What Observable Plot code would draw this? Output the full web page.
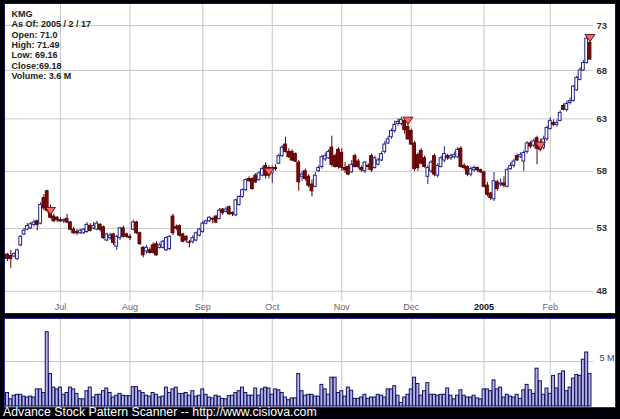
<!DOCTYPE html>
<html>
<head>
<meta charset="utf-8">
<script src="https://cdn.jsdelivr.net/npm/d3@7"></script>
<script src="https://cdn.jsdelivr.net/npm/@observablehq/plot@0.6"></script>
<style>
  html, body { margin: 0; padding: 0; background: #000008; }
  #wrap { position: relative; width: 620px; height: 419px; background: #000008; overflow: hidden; font-family: "Liberation Sans", Arial, sans-serif; }
  #price { position: absolute; left: 5px; top: 4px; outline: 1px solid #14145e; }
  #vol { position: absolute; left: 5px; top: 319px; outline: 1px solid #2a2a90; }
  #footer { position: absolute; left: 3px; top: 405px; color: #fff; font-size: 12.3px; white-space: nowrap; }
  svg { display: block; }
</style>
</head>
<body>
<div id="wrap">
  <div id="price"></div>
  <div id="vol"></div>
  <div id="footer"></div>
</div>
<script>
// ---- Data (trading days from 2004-06-08 to 2005-02-17, index 0..176) ----
const open = [
 50.85,50.75,50.7,50.5,51.6,52.5,52.9,53.0,53.3,53.6,53.4,55.6,56.2,54.6,54.0,53.9,
 53.7,53.6,53.8,53.5,52.9,52.7,52.6,52.6,52.7,53.2,53.0,52.9,53.3,53.1,52.0,52.2,52.5,51.5,52.2,53.0,52.5,52.3,52.9,53.5,52.6,51.4,51.1,
 51.2,51.6,51.7,51.4,51.4,51.2,51.3,54.0,53.1,53.2,52.5,52.3,51.85,51.9,52.0,52.4,
 52.7,53.4,53.6,53.8,54.0,53.8,54.6,54.4,54.8,54.3,54.1,55.0,55.7,56.3,57.3,57.3,57.6,57.2,57.6,58.5,58.3,
 57.8,58.3,58.7,59.4,60.5,59.8,59.8,59.6,58.8,57.5,58.0,57.5,56.8,56.6,58.0,58.4,59.1,59.2,60.2,59.4,60.0,
 59.7,58.3,58.4,57.9,59.4,58.9,58.3,58.0,58.5,59.4,58.3,58.6,59.0,59.8,60.6,61.2,61.8,62.5,62.5,62.8,62.2,
 61.8,60.6,59.5,59.9,59.2,57.5,58.0,59.4,57.6,58.4,59.0,59.4,59.2,59.3,59.3,60.1,58.5,58.4,57.7,58.1,58.3,58.1,
 57.9,56.7,56.0,55.5,57.0,56.8,56.9,56.6,58.2,58.5,59.4,59.3,58.9,59.8,60.6,60.4,61.1,60.6,60.2,61.0,
 62.0,62.6,62.4,62.8,64.3,63.9,64.6,64.8,65.9,67.0,68.0,68.8,71.0
];
const high = [
 50.95,51.2,51.0,51.3,52.4,53.0,53.4,53.5,53.7,53.7,55.2,55.9,56.3,55.0,54.2,54.0,
 53.9,53.8,54.2,53.6,53.1,52.9,52.9,53.0,53.5,53.4,53.5,53.6,53.4,53.2,52.6,52.6,52.6,52.4,53.1,53.2,52.6,52.5,53.7,53.6,52.7,51.5,51.6,
 51.4,51.8,51.9,51.8,52.0,52.3,52.4,54.2,53.3,53.3,52.6,52.4,52.0,52.4,52.7,53.0,
 53.6,53.7,54.0,53.9,54.1,54.7,54.7,54.8,54.9,54.4,55.5,55.8,56.4,57.3,57.5,57.4,57.8,58.0,58.4,58.8,58.5,
 58.5,58.6,59.6,60.4,61.2,60.1,60.0,59.7,59.0,58.0,58.2,57.7,57.2,57.9,58.5,59.5,59.7,60.0,61.3,59.6,60.2,
 60.1,58.8,58.6,59.0,59.6,59.1,58.5,58.9,58.7,59.6,59.4,59.2,59.8,60.8,61.3,62.0,62.8,63.0,63.2,63.0,62.9,
 62.0,60.8,59.7,60.1,59.4,58.5,59.0,59.6,58.7,59.4,60.3,59.6,59.6,59.8,60.2,60.3,58.7,58.5,58.4,58.5,58.4,58.2,
 58.0,57.0,56.1,57.9,57.2,57.3,57.5,58.3,58.8,59.1,59.6,59.7,59.9,60.8,60.8,61.0,61.3,61.0,61.3,62.3,
 63.1,62.9,62.9,63.8,64.5,64.8,65.1,66.4,67.4,68.3,69.1,71.9,71.49
];
const low = [
 50.3,49.75,50.6,50.4,51.5,52.4,52.8,52.9,53.1,52.8,53.3,54.5,54.3,53.8,53.5,53.5,
 53.5,53.4,53.4,52.8,52.5,52.4,52.5,52.5,52.6,52.7,52.9,52.8,52.7,52.1,51.9,52.0,51.6,51.2,52.0,52.2,52.2,52.0,52.8,52.5,51.6,50.6,50.9,
 50.9,50.9,50.7,51.3,51.3,51.1,51.2,52.4,52.8,52.3,51.8,51.8,51.4,51.7,51.9,52.3,
 52.6,53.3,53.5,53.4,53.4,53.7,54.1,54.3,54.1,54.0,54.0,54.9,55.6,56.2,57.0,56.3,56.9,57.1,57.5,57.3,57.3,
 56.9,58.0,58.6,59.3,59.7,59.2,58.9,58.8,56.2,57.1,57.1,56.5,55.7,56.5,57.9,58.2,58.9,59.1,58.4,58.3,58.2,
 58.0,57.8,57.6,57.8,58.3,58.2,57.9,57.8,58.1,57.9,58.2,58.5,58.9,59.6,60.5,61.0,61.6,62.3,62.3,61.5,60.9,
 60.4,58.0,58.0,58.6,58.3,56.8,57.8,57.5,57.4,58.3,58.8,59.0,59.0,59.1,59.2,58.3,58.1,57.5,57.5,57.9,57.9,57.8,
 56.5,55.7,55.4,55.3,56.2,56.6,56.5,56.5,58.1,58.3,58.9,59.2,58.0,59.6,60.1,60.2,58.6,59.8,60.0,60.8,
 61.9,62.2,62.2,62.7,63.8,63.7,64.4,64.7,65.8,66.9,67.9,68.7,69.16
];
const close = [
 50.5,50.5,50.9,51.2,52.3,52.8,53.2,53.35,53.5,53.3,55.0,54.7,54.5,53.9,53.6,53.7,
 53.6,53.7,53.5,52.9,52.6,52.6,52.8,52.9,53.3,52.8,53.2,53.4,52.9,52.2,52.5,52.4,51.8,52.3,53.0,52.3,52.3,52.2,53.5,52.6,51.7,50.8,51.4,
 51.0,51.0,50.8,51.6,51.9,52.2,52.3,52.6,53.0,52.4,51.9,52.0,51.8,52.2,52.6,52.9,
 53.4,53.6,53.9,53.75,53.5,54.5,54.3,54.6,54.2,54.2,55.4,55.7,56.3,57.2,57.1,56.4,57.0,57.8,58.2,57.6,57.6,
 58.3,58.2,59.4,60.2,59.8,59.3,59.0,58.9,57.0,57.7,57.3,56.7,56.2,57.6,58.3,59.3,59.4,59.8,58.6,58.4,58.4,
 58.3,58.1,57.7,58.6,58.4,58.4,58.1,58.8,58.4,58.1,59.2,59.0,59.6,60.5,61.0,61.8,62.4,62.7,62.9,61.9,61.0,
 60.5,58.2,58.3,58.7,58.4,58.3,58.8,57.7,58.5,59.2,59.6,59.2,59.4,59.5,60.0,58.4,58.3,57.7,58.2,58.3,58.1,57.9,
 56.6,55.9,55.6,57.1,56.4,56.9,56.7,58.1,58.5,58.9,59.0,59.5,59.7,60.6,60.3,60.8,60.1,60.0,61.0,62.1,
 62.8,62.4,62.6,63.6,63.9,64.5,64.8,66.3,67.2,68.0,68.8,71.5,69.18
];
const volume = [
 1.5,0.8,1.2,1.3,1.3,1.1,1.0,1.1,1.0,1.9,1.9,1.5,8.25,3.6,2.1,1.9,
 2.1,1.3,1.5,2.1,1.9,1.4,0.8,0.8,1.7,2.1,
 1.0,1.3,1.3,1.7,2.0,1.5,1.0,1.2,1.4,1.2,
 1.15,1.15,2.15,2.15,1.7,1.5,1.2,1.1,1.5,1.3,
 1.0,1.1,2.1,1.5,1.9,2.1,1.4,1.4,1.5,1.2,
 1.7,1.1,1.2,1.9,1.3,1.0,0.9,1.2,1.1,0.85,
 0.8,1.15,1.2,1.5,1.7,2.1,1.5,1.2,1.2,2.0,
 1.2,1.9,2.1,2.0,1.3,1.9,1.8,1.5,1.0,0.7,
 0.9,0.9,3.6,1.7,1.2,1.3,1.3,1.1,1.1,2.4,
 1.9,1.3,3.2,3.2,1.5,1.7,1.1,2.1,1.75,0.85,
 0.85,1.0,1.3,0.85,1.0,1.0,1.3,1.2,1.0,1.9,
 1.9,2.25,1.2,0.4,1.0,1.3,1.9,3.2,2.5,1.2,
 1.7,2.6,1.3,1.3,1.2,1.3,1.3,2.0,1.2,0.8,
 1.2,1.8,1.2,1.0,1.0,1.2,0.9,0.8,1.9,1.9,
 1.7,2.9,1.9,2.1,1.0,1.3,1.1,1.0,1.3,0.85,
 1.8,2.4,1.8,1.4,4.2,2.8,1.3,2.0,1.4,3.4,
 2.0,3.6,3.9,1.7,2.1,3.1,3.5,3.4,5.2,6.0,3.6
];
const monthLabels = ["Jul", "Aug", "Sep", "Oct", "Nov", "Dec", "2005", "Feb"];
const monthIndex  = [16, 37, 59, 80, 101, 122, 144, 164];
const priceTicks = [48, 53, 58, 63, 68, 73];
const volumeTicks = [5];
const markerIndex = [13, 79, 121, 161, 176];
const markerPrice = [54.57, 58.06, 62.92, 60.49, 71.69];
const infoLines = ["KMG", "As Of: 2005 / 2 / 17", "Open: 71.0", "High: 71.49", "Low: 69.16", "Close:69.18", "Volume: 3.6 M"];
const footerText = "Advance Stock Pattern Scanner -- http://www.cisiova.com";

// ---- Build tables ----
const candles = open.map((o, i) => ({i, open: o, high: high[i], low: low[i], close: close[i], up: close[i] >= o}));
const vols = volume.map((v, i) => ({i, v}));
const months = monthLabels.map((label, k) => ({i: monthIndex[k], label}));
const markers = markerIndex.map((i, k) => ({i, p: markerPrice[k]}));

const UP = "#23238a", DOWN_FILL = "#7d0a0a", DOWN_LINE = "#5a0000";
const GRID = "#c8c8c8";
const FONT = "'Liberation Sans', Arial, Helvetica, sans-serif";
const xDomain = [-0.604, 177.06];
const downTri = {draw(ctx) { ctx.moveTo(-5, -2.5); ctx.lineTo(5, -2.5); ctx.lineTo(0, 4.5); ctx.closePath(); }};

const price = Plot.plot({
  width: 610, height: 309,
  marginLeft: 0, marginRight: 22, marginTop: 0, marginBottom: 12,
  style: {background: "#fff", fontFamily: FONT, fontSize: "9px", overflow: "visible"},
  x: {domain: xDomain, axis: null},
  y: {type: "log", domain: [47.23, 75.46], axis: null},
  color: {type: "identity"},
  marks: [
    Plot.ruleY(priceTicks, {stroke: GRID}),
    Plot.ruleX(monthIndex, {stroke: GRID}),
    // right-hand price labels, positioned by the y scale
    Plot.text(priceTicks, {y: d => d, text: d => String(d), frameAnchor: "right", textAnchor: "start", dx: 3,
      fontWeight: "bold", fill: "#333", fontSize: 9.5}),
    Plot.text(months.filter(d => d.label !== "2005"), {x: "i", text: "label", frameAnchor: "bottom", dy: 8, fill: "#666"}),
    Plot.text(months.filter(d => d.label === "2005"), {x: "i", text: "label", frameAnchor: "bottom", dy: 8, fill: "#111", fontWeight: "bold"}),
    Plot.ruleX(candles, {x: "i", y1: "low", y2: "high", stroke: d => d.up ? UP : DOWN_LINE, strokeWidth: 1}),
    Plot.rect(candles, {x1: d => d.i - 0.42, x2: d => d.i + 0.42, y1: "open", y2: "close",
      fill: d => d.up ? "#fff" : DOWN_FILL, stroke: d => d.up ? UP : DOWN_LINE, strokeWidth: 1}),
    Plot.dot(markers, {x: "i", y: "p", symbol: downTri, fill: "#f06a6a", stroke: "#7a1010", strokeWidth: 1}),
    Plot.text([infoLines.join("\n")], {frameAnchor: "top-left", dx: 6, dy: 5, lineAnchor: "top", textAnchor: "start",
      fontWeight: "bold", fill: "#222", lineHeight: 1.15, fontSize: 9})
  ]
});
document.getElementById("price").appendChild(price);

const vol = Plot.plot({
  width: 610, height: 88,
  marginLeft: 0, marginRight: 22, marginTop: 0, marginBottom: 1,
  style: {background: "#fff", fontFamily: FONT, fontSize: "9px", overflow: "visible"},
  x: {domain: xDomain, axis: null},
  y: {domain: [0, 9.667], axis: null},
  marks: [
    Plot.ruleX(monthIndex, {stroke: GRID}),
    Plot.ruleY(volumeTicks, {stroke: GRID}),
    Plot.axisY(volumeTicks, {anchor: "right", label: null, tickSize: 0, tickPadding: 6, dy: -3, fill: "#3a3a9a", tickFormat: d => d + " M"}),
    Plot.rectY(vols, {x1: d => d.i - 0.45, x2: d => d.i + 0.45, y1: 0, y2: "v", fill: "#b4b4e6", stroke: "#10105e", strokeWidth: 1})
  ]
});
document.getElementById("vol").appendChild(vol);
document.getElementById("footer").textContent = footerText;
</script>
</body>
</html>
